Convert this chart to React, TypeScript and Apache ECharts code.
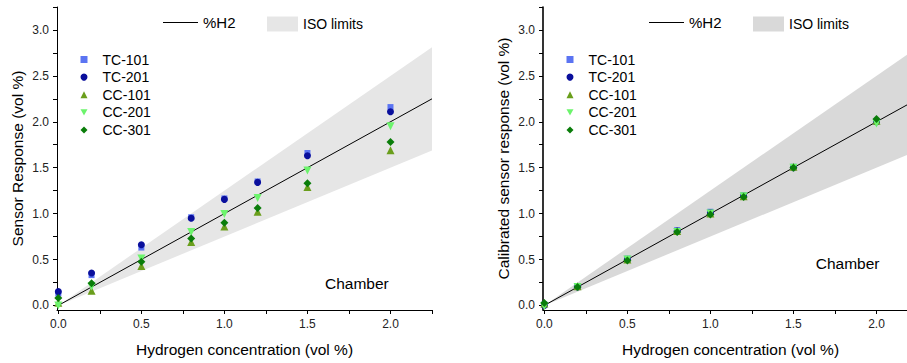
import React, { useEffect, useRef } from "react";
import * as echarts from "echarts";

// ---- data ----
const xConc = [0, 0.2, 0.5, 0.8, 1.0, 1.2, 1.5, 2.0];
const seriesNames = ["TC-101", "TC-201", "CC-101", "CC-201", "CC-301"];

const rawTC101 = [0.13, 0.33, 0.63, 0.96, 1.165, 1.35, 1.66, 2.16];
const rawTC201 = [0.15, 0.353, 0.66, 0.95, 1.155, 1.34, 1.63, 2.11];
const rawCC101 = [0.03, 0.16, 0.43, 0.69, 0.86, 1.02, 1.29, 1.69];
const rawCC201 = [0.0, 0.205, 0.51, 0.8, 0.995, 1.17, 1.47, 1.95];
const rawCC301 = [0.08, 0.24, 0.475, 0.73, 0.9, 1.06, 1.33, 1.78];

const calTC101 = [0.01, 0.21, 0.51, 0.82, 1.02, 1.2, 1.51, 2.0];
const calTC201 = [0.0, 0.2, 0.5, 0.81, 1.01, 1.19, 1.5, 2.0];
const calCC101 = [0.02, 0.21, 0.5, 0.81, 1.0, 1.19, 1.51, 2.01];
const calCC201 = [-0.01, 0.2, 0.5, 0.8, 1.0, 1.19, 1.5, 1.98];
const calCC301 = [0.026, 0.2, 0.49, 0.8, 0.99, 1.18, 1.5, 2.03];

const lineX = [0, 2.25];
const lineY = [0, 2.25];
const isoUpper = [0, 2.8125];
const isoLower = [0, 1.6875];

const xTickValues = [0, 0.25, 0.5, 0.75, 1.0, 1.25, 1.5, 1.75, 2.0, 2.25];
const xLabelValues = [0, 0.5, 1.0, 1.5, 2.0];
const yTickValues = [0, 0.25, 0.5, 0.75, 1.0, 1.25, 1.5, 1.75, 2.0, 2.25, 2.5, 2.75, 3.0, 3.25];
const yLabelValues = [0, 0.5, 1.0, 1.5, 2.0, 2.5, 3.0];

const xTitle = "Hydrogen concentration (vol %)";
const yTitles = ["Sensor Response (vol %)", "Calibrated sensor response (vol %)"];

// ---- styles ----
const FONT = "'Liberation Sans', Arial, sans-serif";
const colors = ["#5b74f2", "#0a0f9c", "#6a9e1c", "#6cf46c", "#0a7d0a"];
const symbols = ["rect", "circle", "triangle", "path://M0,0 L10,0 L5,9 Z", "diamond"];
const symbolSizes = [6, 7, 8, 8, 8];
const bandColors = ["#e6e6e6", "#d9d9d9"];
const gridLefts = [57, 543];

const zip = (xs: number[], ys: number[]) => xs.map((x, i) => [x, ys[i]]);

export default function App() {
  const ref = useRef<HTMLDivElement>(null);
  useEffect(() => {
    if (!ref.current) return;
    const chart = echarts.init(ref.current, undefined, { renderer: "svg" });
    const dataSets = [
      [rawTC101, rawTC201, rawCC101, rawCC201, rawCC301],
      [calTC101, calTC201, calCC101, calCC201, calCC301],
    ];

    const grid: any[] = [];
    const xAxis: any[] = [];
    const yAxis: any[] = [];
    const series: any[] = [];
    const legend: any[] = [];
    const graphic: any[] = [];

    [0, 1].forEach((gi) => {
      const off = gridLefts[gi] - gridLefts[0];
      grid.push({
        left: gridLefts[gi],
        top: 7,
        width: 375,
        height: 303,
        containLabel: false,
        outerBoundsMode: "none",
      });
      xAxis.push({
        type: "value",
        gridIndex: gi,
        min: -0.008,
        max: 2.25,
        axisLine: { show: true, onZero: false, lineStyle: { color: "#000", width: 1 } },
        axisTick: { show: true, length: 4, customValues: xTickValues, lineStyle: { color: "#000" } },
        axisLabel: {
          customValues: xLabelValues,
          formatter: (v: number) => v.toFixed(1),
          margin: 8,
          fontSize: 12,
          color: "#222",
          fontFamily: FONT,
        },
        splitLine: { show: false },
        name: xTitle,
        nameLocation: "middle",
        nameGap: 31,
        nameTextStyle: { fontSize: 15.5, color: "#000", fontFamily: FONT },
      });
      yAxis.push({
        type: "value",
        gridIndex: gi,
        min: -0.05,
        max: 3.25,
        axisLine: { show: true, onZero: false, lineStyle: { color: "#000", width: gi === 0 ? 1 : 1.6 } },
        axisTick: { show: true, length: 4, customValues: yTickValues, lineStyle: { color: "#000" } },
        axisLabel: {
          customValues: yLabelValues,
          formatter: (v: number) => v.toFixed(1),
          margin: 8,
          fontSize: 12,
          color: "#222",
          fontFamily: FONT,
        },
        splitLine: { show: false },
        name: yTitles[gi],
        nameLocation: "middle",
        nameGap: 32,
        nameRotate: 90,
        nameTextStyle: { fontSize: 15.5, color: "#000", fontFamily: FONT },
      });

      const band = bandColors[gi];
      series.push({
        type: "custom",
        name: "ISO limits",
        xAxisIndex: gi,
        yAxisIndex: gi,
        data: lineX.map((x, i) => [x, isoLower[i], isoUpper[i]]),
        itemStyle: { color: band },
        clip: true,
        silent: true,
        z: 1,
        renderItem: (params: any, api: any) => {
          if (params.dataIndex !== 0) return null;
          const pts: number[][] = [];
          for (let i = 0; i < lineX.length; i++) pts.push(api.coord([lineX[i], isoUpper[i]]));
          for (let i = lineX.length - 1; i >= 0; i--) pts.push(api.coord([lineX[i], isoLower[i]]));
          return { type: "polygon", shape: { points: pts }, style: { fill: band } };
        },
      });
      series.push({
        type: "line",
        name: "%H2",
        xAxisIndex: gi,
        yAxisIndex: gi,
        data: zip(lineX, lineY),
        symbol: "none",
        color: "#000",
        lineStyle: { color: "#000", width: 1 },
        silent: true,
        z: 2,
      });
      seriesNames.forEach((nm, si) => {
        series.push({
          type: "scatter",
          name: nm,
          xAxisIndex: gi,
          yAxisIndex: gi,
          data: zip(xConc, dataSets[gi][si]),
          symbol: symbols[si],
          symbolSize: symbolSizes[si],
          itemStyle: { color: colors[si], opacity: 1 },
          z: 3,
        });
      });

      const legendText = { fontSize: 14, color: "#000", fontFamily: FONT };
      legend.push({
        left: 163 + off,
        top: 15,
        padding: 0,
        orient: "horizontal",
        data: [{ name: "%H2", icon: "rect", itemStyle: { color: "#000", borderWidth: 0 } }],
        itemWidth: 35,
        itemHeight: 1,
        symbolKeepAspect: false,
        selectedMode: false,
        textStyle: { ...legendText, fontSize: 15 },
      });
      legend.push({
        left: 267 + off,
        top: 16.5,
        padding: 0,
        orient: "horizontal",
        data: [{ name: "ISO limits", icon: "rect", itemStyle: { color: band, borderWidth: 0 } }],
        itemWidth: 31,
        itemHeight: 15,
        symbolKeepAspect: false,
        selectedMode: false,
        textStyle: { ...legendText },
      });
      legend.push({
        left: 80.5 + off,
        top: 52.5,
        padding: 0,
        orient: "vertical",
        data: seriesNames,
        itemWidth: 7,
        itemHeight: 7,
        itemGap: 3.6,
        selectedMode: false,
        textStyle: { ...legendText, lineHeight: 14, padding: [0, 0, 0, 10] },
      });

      graphic.push({
        type: "text",
        x: gi === 0 ? 325 : 815.7,
        y: gi === 0 ? 283 : 263,
        z: 10,
        style: {
          text: "Chamber",
          fontSize: 15.5,
          fontFamily: FONT,
          fill: "#000",
          verticalAlign: "middle",
        },
      });
    });

    chart.setOption({
      animation: false,
      backgroundColor: "#fff",
      textStyle: { fontFamily: FONT },
      grid,
      xAxis,
      yAxis,
      legend,
      series,
      graphic,
    });
    return () => chart.dispose();
  }, []);

  return (
    <div
      ref={ref}
      style={{ position: "absolute", left: 0, top: 0, width: 907, height: 363, background: "#fff" }}
    />
  );
}
